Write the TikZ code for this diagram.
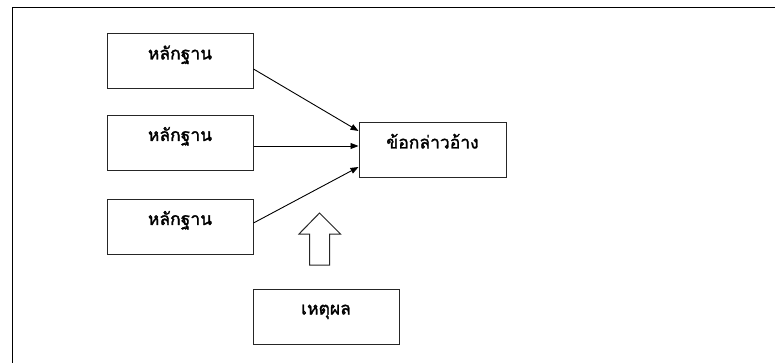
\documentclass[tikz,border=0pt]{standalone}
\usepackage{fontspec}
\newfontfamily\thaifont[Script=Thai, FakeBold=1.6]{Loma}
\usetikzlibrary{arrows.meta}
\tikzset{
  box/.style={draw=black!85, line width=1pt, rectangle, minimum width=146pt, minimum height=55pt,
    inner sep=0pt, text height=10pt, text depth=14pt, font=\thaifont\fontsize{17.5pt}{20pt}\selectfont},
  conn/.style={draw=black, line width=0.9pt, -{Triangle[length=8pt,width=6pt]}},
  frameline/.style={draw=black, line width=1pt},
  blockarrow/.style={draw=black!85, line width=1pt, fill=white}
}
\begin{document}
\begin{tikzpicture}[x=1pt,y=-1pt]
\useasboundingbox (0,0) rectangle (775,363);
\fill[white] (0,0) rectangle (775,363);
\coordinate (fA) at (775,8);
\coordinate (fB) at (12.5,8);
\coordinate (fC) at (12.5,363);
\draw[frameline] (fA) -- (fB) -- (fC);
\node[box] (e1) at (180,61.5) {หลักฐาน};
\node[box] (e2) at (180,143) {หลักฐาน};
\node[box] (e3) at (180,227) {หลักฐาน};
\node[box, minimum width=147pt] (c) at (432.5,150.5) {ข้อกล่าวอ้าง};
\node[box] (r) at (326,316.5) {เหตุผล};
\draw[conn] ([yshift=-7.5pt]e1.east) -- ([yshift=19.5pt]c.west);
\draw[conn] ([yshift=-3pt]e2.east) -- ([yshift=4.5pt]c.west);
\draw[conn] ([yshift=4pt]e3.east) -- ([yshift=-16.5pt]c.west);
\draw[blockarrow] (309.5,265) -- (309.5,234) -- (299,234) -- (319.5,213) -- (340.5,234) -- (329.5,234) -- (329.5,265) -- cycle;
\end{tikzpicture}
\end{document}
